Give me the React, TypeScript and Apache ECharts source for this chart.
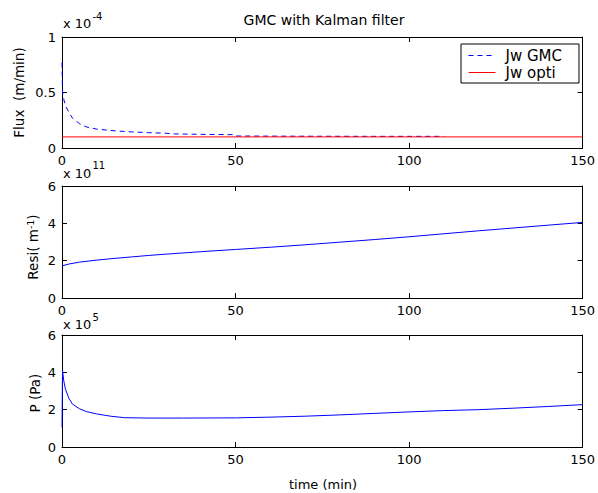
import React, { useEffect, useRef } from "react";
import * as echarts from "echarts";

const FONT = '"DejaVu Sans", sans-serif';

// time axis shared by the three panels
const timeMin = 0;
const timeMax = 150;
const timeStep = 50;

// Flux panel (values in units of 1e-4 m/min)
const fluxGmcTime = [0, 0.15, 0.5, 1, 2, 3, 5, 7, 10, 15, 20, 25, 30, 32, 40, 49.5, 50, 70, 90, 110];
const fluxGmc = [0.77, 0.5, 0.44, 0.38, 0.32, 0.27, 0.22, 0.19, 0.17, 0.155, 0.145, 0.138, 0.133, 0.127, 0.123, 0.12, 0.108, 0.106, 0.105, 0.105];
const fluxOptiTime = [0, 150];
const fluxOpti = [0.1, 0.1];

// Resistance panel (values in units of 1e11 m^-1)
const resiTime = [0, 2, 5, 10, 15, 20, 25, 30, 40, 50, 60, 70, 80, 90, 100, 110, 120, 130, 140, 150];
const resi = [1.72, 1.82, 1.92, 2.03, 2.12, 2.2, 2.28, 2.35, 2.48, 2.6, 2.72, 2.85, 2.99, 3.13, 3.28, 3.44, 3.6, 3.75, 3.9, 4.05];

// Pressure panel (values in units of 1e5 Pa)
const pressureTime = [0, 0.15, 0.5, 1, 2, 3, 5, 7, 10, 14, 18, 25, 35, 50, 60, 70, 80, 90, 100, 110, 120, 130, 140, 150];
const pressure = [1.05, 4.1, 3.55, 3.1, 2.6, 2.3, 2.05, 1.9, 1.77, 1.65, 1.57, 1.55, 1.55, 1.56, 1.6, 1.65, 1.72, 1.8, 1.88, 1.95, 2.0, 2.08, 2.17, 2.27];

// y ranges per panel: [min, max, interval]
const yRanges = [
  [0, 1, 0.5],
  [0, 6, 2],
  [0, 6, 2],
];

const legendNames = ["Jw GMC", "Jw opti"];

const BLUE = "#0000ff";
const RED = "#ff0000";
const DASH = [5, 4];

const pairs = (t: number[], v: number[]) => t.map((x, i) => [x, v[i]]);

const gridTops = [37, 186, 335];
const gridHeights = [111, 112, 112];

function buildOption() {
  const axisLine = { show: true, onZero: false, lineStyle: { color: "#000", width: 1 } };
  const axisTick = { show: true, inside: true, length: 5, lineStyle: { color: "#000", width: 1 } };
  const label = { color: "#000", fontFamily: FONT, fontSize: 13 };

  const grid = gridTops.map((top, i) => ({
    left: 62,
    width: 524,
    top,
    height: gridHeights[i],
    containLabel: false,
  }));

  const xAxis: any[] = [];
  const yAxis: any[] = [];
  for (let i = 0; i < 3; i++) {
    const base = { type: "value", gridIndex: i, min: timeMin, max: timeMax, interval: timeStep, splitLine: { show: false }, axisLine, axisTick };
    xAxis.push({ ...base, position: "bottom", axisLabel: { ...label, margin: 6 } });
    xAxis.push({ ...base, position: "top", axisLabel: { show: false } });
    const [mn, mx, iv] = yRanges[i];
    const yb = { type: "value", gridIndex: i, min: mn, max: mx, interval: iv, splitLine: { show: false }, axisLine, axisTick };
    yAxis.push({ ...yb, position: "left", axisLabel: { ...label, margin: 6 } });
    yAxis.push({ ...yb, position: "right", axisLabel: { show: false } });
  }

  const lineSeries = (name: string, data: number[][], panel: number, color: string, type: any) => ({
    name,
    type: "line",
    xAxisIndex: panel * 2,
    yAxisIndex: panel * 2,
    data,
    showSymbol: false,
    symbol: "none",
    silent: true,
    itemStyle: { color },
    lineStyle: { color, width: 1, type },
  });

  const series = [
    lineSeries(legendNames[0], pairs(fluxGmcTime, fluxGmc), 0, BLUE, DASH),
    lineSeries(legendNames[1], pairs(fluxOptiTime, fluxOpti), 0, RED, "solid"),
    lineSeries("Resi", pairs(resiTime, resi), 1, BLUE, "solid"),
    lineSeries("P", pairs(pressureTime, pressure), 2, BLUE, "solid"),
  ];

  const txt = (text: string, x: number, y: number, size: number, extra: any = {}) => ({
    type: "text",
    x,
    y,
    silent: true,
    ...extra,
    style: {
      text,
      fill: "#000",
      fontFamily: FONT,
      fontSize: size,
      textAlign: extra.align || "center",
      align: extra.align || "center",
      textVerticalAlign: "middle",
      verticalAlign: "middle",
      ...(extra.style || {}),
    },
  });

  const graphic = [
    txt("GMC with Kalman filter", 324, 20, 14),
    // scale multipliers
    txt("x 10", 63, 23, 13, { align: "left" }),
    txt("-4", 92.5, 16, 10, { align: "left" }),
    txt("x 10", 63, 173, 13, { align: "left" }),
    txt("11", 92.5, 165.5, 10, { align: "left" }),
    txt("x 10", 63, 324, 13, { align: "left" }),
    txt("5", 92.5, 317, 10, { align: "left" }),
    // axis titles
    txt("Flux  (m/min)", 18.5, 92.5, 13.5, { rotation: Math.PI / 2 }),
    txt("{a|Resi( m}{b|-1}{a|)}", 33, 247, 13.5, {
      rotation: Math.PI / 2,
      style: {
        rich: {
          a: { fontFamily: FONT, fontSize: 13.5, lineHeight: 16, fill: "#000" },
          b: { fontFamily: FONT, fontSize: 9.5, lineHeight: 10, verticalAlign: "top", fill: "#000" },
        },
      },
    }),
    txt("P (Pa)", 34.5, 393, 13.5, { rotation: Math.PI / 2 }),
    txt("time (min)", 323, 484, 13),
  ];

  const hiddenSymbol = { color: "rgba(0,0,0,0)", borderWidth: 0, opacity: 0 };

  return {
    animation: false,
    backgroundColor: "#fff",
    grid,
    xAxis,
    yAxis,
    series,
    legend: {
      data: legendNames,
      orient: "vertical",
      left: 461,
      top: 44,
      padding: [4, 17, 3, 7],
      itemWidth: 27,
      itemHeight: 14,
      itemGap: 2,
      borderColor: "#000",
      borderWidth: 1,
      backgroundColor: "#fff",
      selectedMode: false,
      itemStyle: hiddenSymbol,
      lineStyle: { width: 1 },
      textStyle: { color: "#000", fontFamily: FONT, fontSize: 15, padding: [0, 0, 0, 5] },
    },
    graphic,
  };
}

export default function App() {
  const ref = useRef<HTMLDivElement>(null);
  useEffect(() => {
    document.body.style.margin = "0";
    if (!ref.current) return;
    const chart = echarts.init(ref.current, undefined, { renderer: "svg" });
    chart.setOption(buildOption() as any);
    return () => chart.dispose();
  }, []);
  return <div ref={ref} style={{ width: 598, height: 493, background: "#fff" }} />;
}
